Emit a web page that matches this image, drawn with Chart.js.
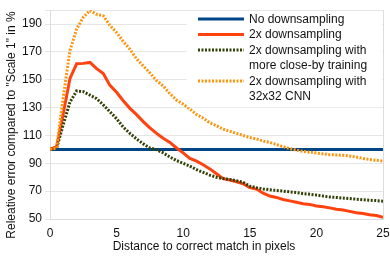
<!DOCTYPE html>
<html><head><meta charset="utf-8">
<script src="https://cdn.jsdelivr.net/npm/chart.js@4"></script>
<style>html,body{margin:0;padding:0;background:#fff}</style>
</head><body>
<canvas id="c" width="390" height="258"></canvas>
<script>
const distances = [0,0.5,1,1.5,2,2.5,3,3.5,4,4.5,5,5.5,6,6.5,7,7.5,8,8.5,9,9.5,10,10.5,11,11.5,12,12.5,13,13.5,14,14.5,15,15.5,16,16.5,17,17.5,18,18.5,19,19.5,20,20.5,21,21.5,22,22.5,23,23.5,24,24.5,25];
const noDownsampling = distances.map(() => 100);
const downsampling2x = [100,102,126,151,161.5,161.8,162.5,158,154.5,146,141,135,129.5,125,120,115.5,111.5,108,105,101,97.5,93.5,91.5,89,86,82.5,79,78,76.8,75.3,72.5,71.5,68.5,66.5,65.5,64,63,62,61,60.5,59.3,58.8,58,57,56.5,55.5,54.5,54,53,52.5,51.3];
const downsampling2xCloseBy = [100,101,118,134,142,141.5,139,136.5,132,127,122,116,111.5,107.5,104,101,99.8,97.5,94.5,92,90,88,85.5,83.5,81.5,80,79,78.4,77.5,76.3,73.6,72.5,71.6,71,70.5,70,69.5,69,68.2,67.8,67.2,66.5,65.8,65.5,65,64.7,64.2,63.8,63.5,63.2,62.8];
const downsampling2xCnn32 = [100,101,138,171,186.5,195,199.8,197,196,189,184,177.5,172,165,160,155,149.5,145.5,140,135.5,132.5,129,125,122.5,119,117,114.5,113,111.5,110,108.5,107.5,106,105,103.5,102,100.5,99.5,98.5,98,97.4,96.8,96.2,96,95.8,95.2,94.5,93.5,92.8,92.2,91.5];
const seriesLabels = ['No downsampling','2x downsampling','2x downsampling with\nmore close-by training','2x downsampling with\n32x32 CNN'];
const yTickValues = [50,70,90,110,130,150,170,190];
const xTitle = 'Distance to correct match in pixels';
const yTitle = 'Releative error compared to "Scale 1" in %';

const seriesValues = [noDownsampling, downsampling2x, downsampling2xCloseBy, downsampling2xCnn32];
const colors = ['#004586','#ff420e','#314004','#ff950e'];
const dashes = [[],[],[2,1.5],[2,1.5]];

const datasets = seriesValues.map((vals, i) => ({
  label: seriesLabels[i],
  data: distances.map((d, j) => ({x: d, y: vals[j]})),
  borderColor: colors[i],
  backgroundColor: colors[i],
  borderWidth: 3,
  borderDash: dashes[i],
  pointRadius: 0,
  tension: 0,
  fill: false,
  order: 3 - i
}));

const FONT = '12px "Liberation Sans", Arial, sans-serif';
const TXT = '#111';

const overlay = {
  id: 'overlay',
  afterDraw(chart) {
    const ctx = chart.ctx;
    const ca = chart.chartArea;
    ctx.save();
    // legend box
    const lx = 187, ly = ca.top + 1;
    ctx.fillStyle = '#fff';
    ctx.fillRect(lx, ly, ca.right - lx - 1, 96);
    ctx.font = FONT;
    ctx.textBaseline = 'middle';
    ctx.textAlign = 'left';
    let y = 19;
    datasets.forEach((ds) => {
      ctx.beginPath();
      ctx.strokeStyle = ds.borderColor;
      ctx.lineWidth = 3;
      ctx.setLineDash(ds.borderDash);
      ctx.moveTo(198, y);
      ctx.lineTo(244, y);
      ctx.stroke();
      ctx.setLineDash([]);
      ctx.fillStyle = TXT;
      ds.label.split('\n').forEach((line) => {
        ctx.fillText(line, 249, y + 0.5);
        y += 15.5;
      });
    });
    // axis titles
    ctx.fillStyle = TXT;
    ctx.textAlign = 'center';
    ctx.fillText(xTitle, 204, 246.5);
    ctx.translate(11.5, 125);
    ctx.rotate(-Math.PI / 2);
    ctx.fillText(yTitle, 0, 0);
    ctx.restore();
  }
};

new Chart(document.getElementById('c'), {
  type: 'line',
  data: { datasets },
  plugins: [overlay],
  options: {
    responsive: false,
    animation: false,
    devicePixelRatio: 1,
    layout: { padding: { top: 7, right: 0, left: 0, bottom: 0 } },
    plugins: { legend: { display: false }, tooltip: { enabled: false } },
    scales: {
      x: {
        type: 'linear', min: 0, max: 25,
        ticks: { stepSize: 5, color: TXT, font: { size: 12, family: '"Liberation Sans", Arial, sans-serif' }, padding: 7, maxRotation: 0 },
        grid: { drawTicks: false, color: (c) => (c.tick && c.tick.value === 25) ? '#dcdcdc' : 'rgba(0,0,0,0)' },
        border: { color: '#dcdcdc' },
        afterFit: (s) => { s.height = 39; s.paddingRight = 7; s.paddingLeft = 0; }
      },
      y: {
        min: 50, max: 200,
        afterBuildTicks: (s) => { s.ticks = yTickValues.concat([200]).map(v => ({ value: v })); },
        ticks: { color: TXT, font: { size: 12, family: '"Liberation Sans", Arial, sans-serif' }, padding: 3, callback: (v) => v === 200 ? '' : v },
        grid: { color: '#e6e6e6', tickLength: 5 },
        border: { color: '#dcdcdc' },
        afterFit: (s) => { s.width = 50; }
      }
    }
  }
});
</script>
</body></html>
